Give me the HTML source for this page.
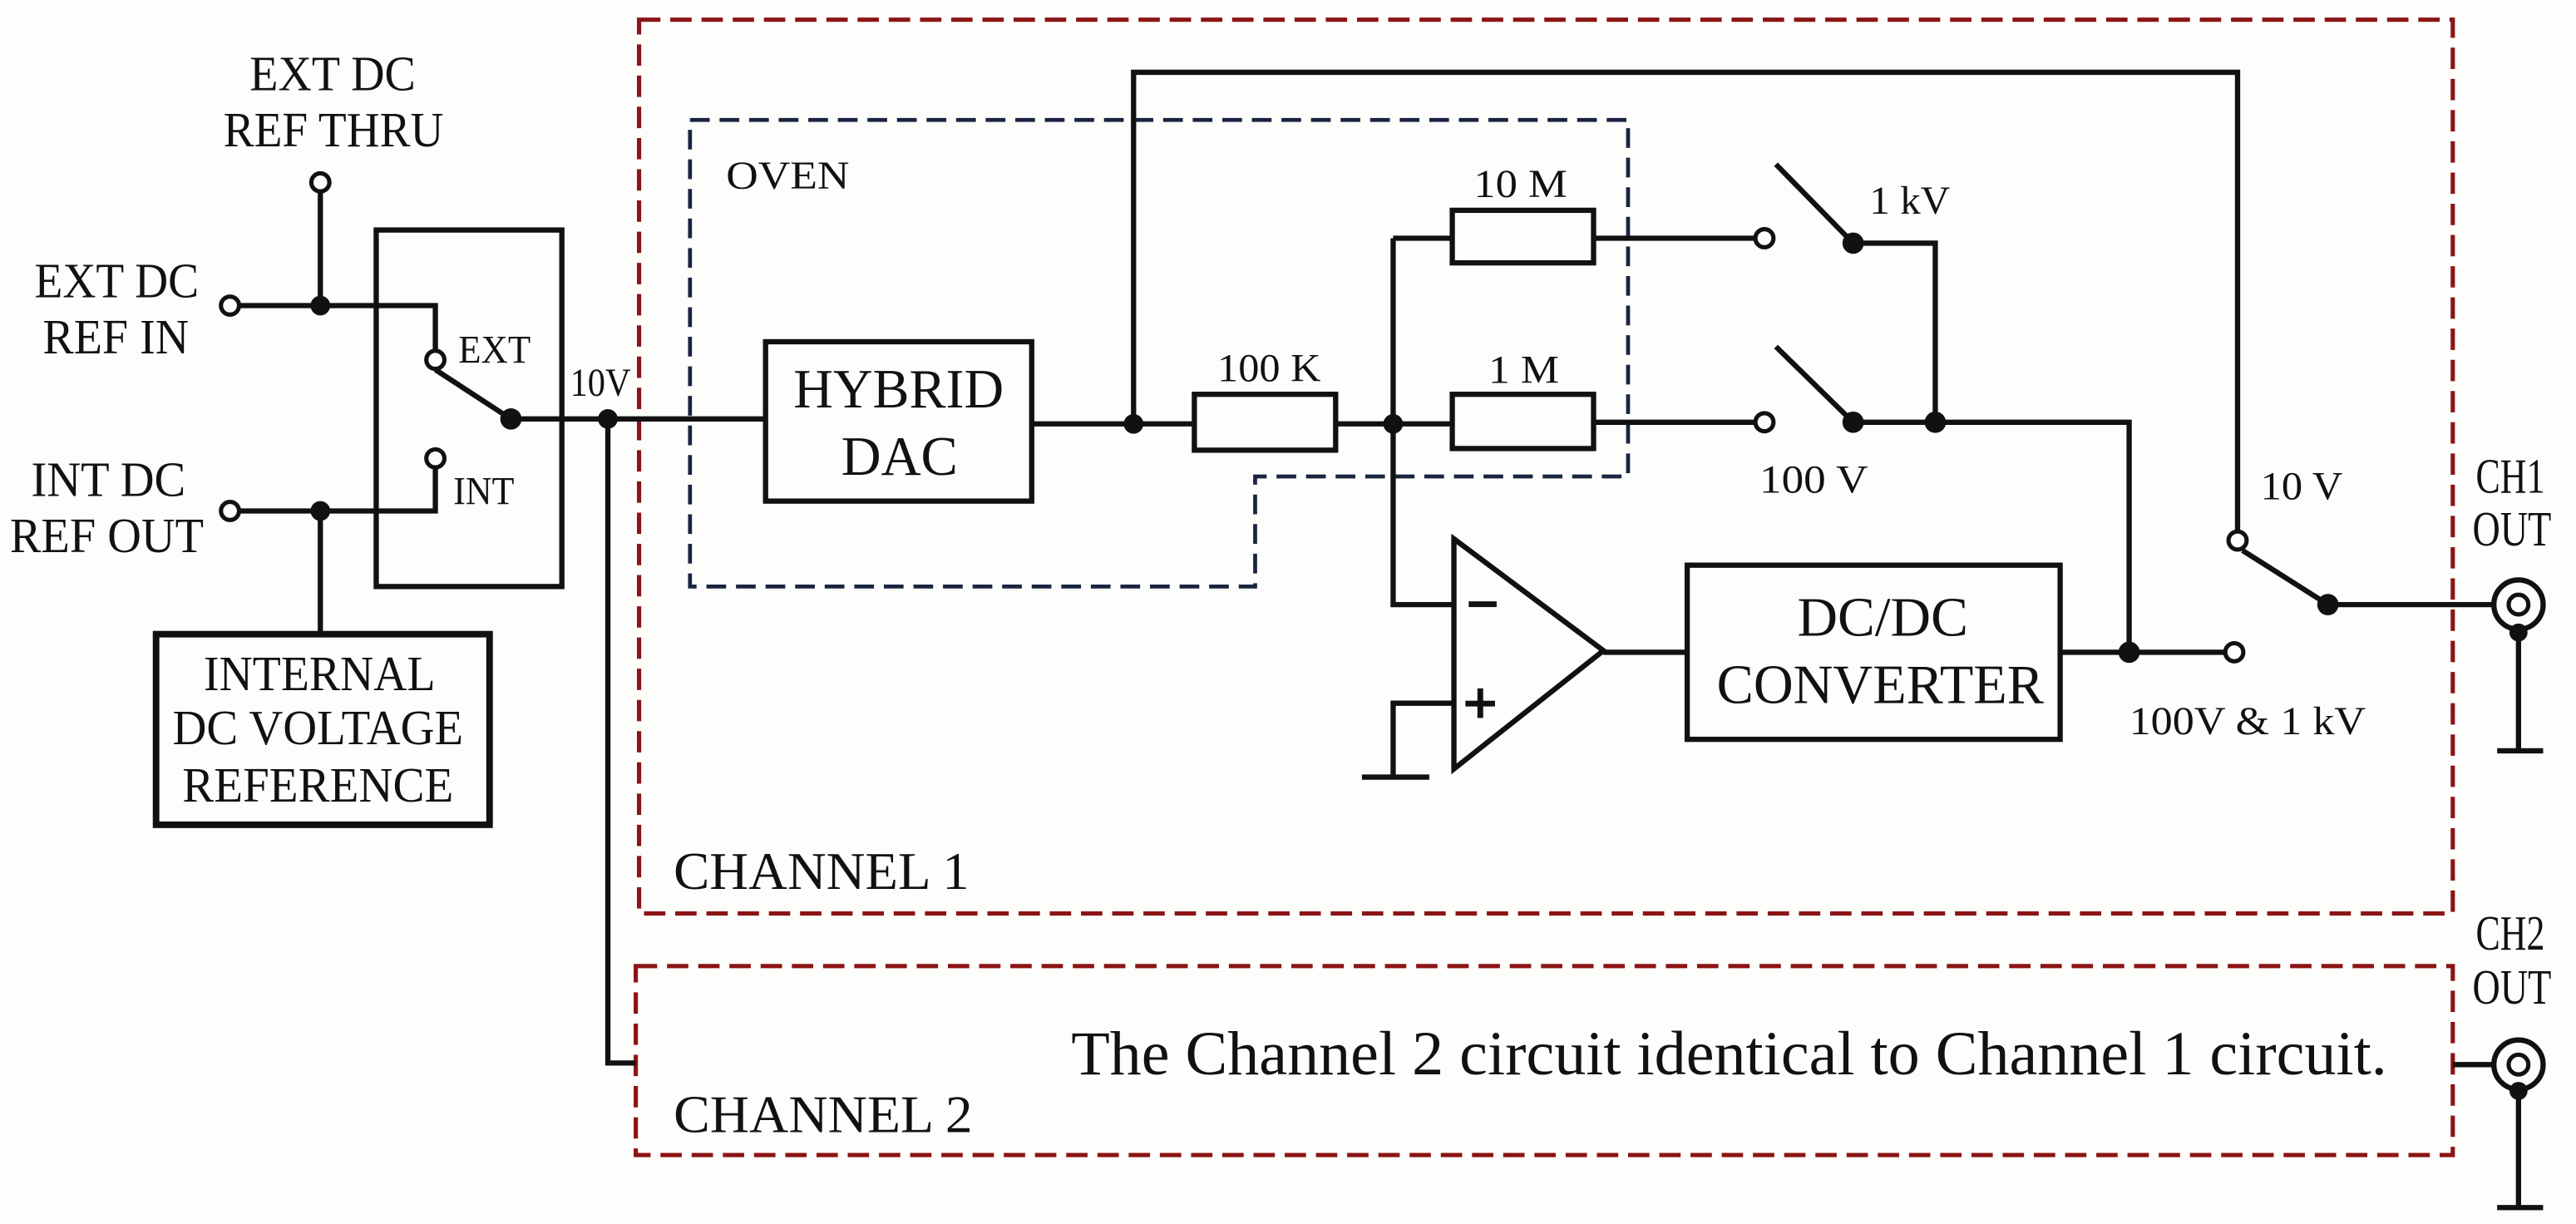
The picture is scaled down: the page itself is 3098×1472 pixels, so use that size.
<!DOCTYPE html>
<html><head><meta charset="utf-8"><style>html,body{margin:0;padding:0;background:#fdfdfb;overflow:hidden}svg{display:block}</style></head><body>
<svg width="3098" height="1472" viewBox="0 0 1568 745" preserveAspectRatio="none" xmlns="http://www.w3.org/2000/svg" font-family="Liberation Serif, serif" fill="#111">
<rect width="1568" height="745" fill="#fdfdfb"/>
<g fill="none" stroke="#8b1414" stroke-width="2.6" stroke-dasharray="13 6">
<rect x="389" y="12" width="1104" height="544"/>
<rect x="387" y="588" width="1106" height="115"/>
</g>
<path d="M420 73 H991 V290 H764 V357 H420 Z" fill="none" stroke="#1a2440" stroke-width="2.4" stroke-dasharray="12 6"/>
<g stroke="#111" stroke-width="3.2" fill="none">
<rect x="229" y="140" width="113" height="217"/>
<rect x="95" y="386" width="203" height="116" stroke-width="4"/>
<rect x="466" y="208" width="162" height="97"/>
<rect x="727" y="240" width="86" height="34"/>
<rect x="884" y="128" width="86" height="32"/>
<rect x="884" y="240" width="86" height="33"/>
<rect x="1027" y="344" width="227" height="106"/>
<path d="M195 117 V186 M146 186 H265 V213 M146 311 H265 V285 M195 311 V386 M265 225 L311 255 H466 M370 255 V647 H387 M628 258 H727 M813 258 H884 M848 145 V368 H885 M848 145 H884 M970 145 H1068 M970 257 H1068 M1081 100 L1128 148 M1081 211 L1128 257 M1128 148 H1178 V257 M1128 257 H1296 V397 M1254 397 H1354 M976 397 H1027 M885 428 H848 V473 M829 473 H870 M690 258 V44 H1362 V323 M1365 335 L1417 368 H1533 M1533 385 V457 M1520 457 H1548 M1533 664 V735 M1520 735 H1548 M1493 648 H1518"/>
<path d="M885 328 L976 396 L885 468 Z"/>
</g>
<g fill="#fdfdfb" stroke="#111" stroke-width="2.6">
<circle cx="195" cy="111" r="5.5"/><circle cx="140" cy="186" r="5.5"/><circle cx="140" cy="311" r="5.5"/>
<circle cx="265" cy="219" r="5.5"/><circle cx="265" cy="279" r="5.5"/>
<circle cx="1074" cy="145" r="5.5"/><circle cx="1074" cy="257" r="5.5"/><circle cx="1360" cy="397" r="5.5"/><circle cx="1362" cy="329" r="5.5"/>
<circle cx="1533" cy="368" r="15" stroke-width="3.2"/><circle cx="1533" cy="368" r="6"/>
<circle cx="1533" cy="648" r="15" stroke-width="3.2"/><circle cx="1533" cy="648" r="6"/>
</g>
<g fill="#111">
<circle cx="195" cy="186" r="6"/><circle cx="195" cy="311" r="6"/><circle cx="311" cy="255" r="6.5"/><circle cx="370" cy="255" r="6"/>
<circle cx="690" cy="258" r="6"/><circle cx="848" cy="258" r="6"/><circle cx="1128" cy="148" r="6.5"/><circle cx="1128" cy="257" r="6.5"/><circle cx="1178" cy="257" r="6.5"/><circle cx="1296" cy="397" r="6.5"/><circle cx="1417" cy="368" r="6.5"/>
<circle cx="1533" cy="385" r="5.5"/><circle cx="1533" cy="664" r="5.5"/>
</g>
<g font-size="30" lengthAdjust="spacingAndGlyphs">
<text x="152" y="55" textLength="101" lengthAdjust="spacingAndGlyphs">EXT DC</text>
<text x="136" y="89" textLength="134" lengthAdjust="spacingAndGlyphs">REF THRU</text>
<text x="21" y="181" textLength="100" lengthAdjust="spacingAndGlyphs">EXT DC</text>
<text x="26" y="215" textLength="89" lengthAdjust="spacingAndGlyphs">REF IN</text>
<text x="19" y="302" textLength="94" lengthAdjust="spacingAndGlyphs">INT DC</text>
<text x="6" y="336" textLength="118" lengthAdjust="spacingAndGlyphs">REF OUT</text>
<text x="124" y="420" textLength="141" lengthAdjust="spacingAndGlyphs">INTERNAL</text>
<text x="105" y="453" textLength="177" lengthAdjust="spacingAndGlyphs">DC VOLTAGE</text>
<text x="111" y="488" textLength="165" lengthAdjust="spacingAndGlyphs">REFERENCE</text>
<text x="1507" y="300" textLength="42" lengthAdjust="spacingAndGlyphs">CH1</text>
<text x="1505" y="332" textLength="48" lengthAdjust="spacingAndGlyphs">OUT</text>
<text x="1507" y="578" textLength="42" lengthAdjust="spacingAndGlyphs">CH2</text>
<text x="1505" y="611" textLength="48" lengthAdjust="spacingAndGlyphs">OUT</text>
</g>
<g font-size="24">
<text x="279" y="221" textLength="44" lengthAdjust="spacingAndGlyphs">EXT</text>
<text x="276" y="307" textLength="37" lengthAdjust="spacingAndGlyphs">INT</text>
<text x="347" y="241" textLength="37" lengthAdjust="spacingAndGlyphs">10V</text>
<text x="442" y="115" textLength="75" lengthAdjust="spacingAndGlyphs">OVEN</text>
<text x="741" y="232" textLength="63" lengthAdjust="spacingAndGlyphs">100 K</text>
<text x="897" y="120" textLength="57" lengthAdjust="spacingAndGlyphs">10 M</text>
<text x="906" y="233" textLength="43" lengthAdjust="spacingAndGlyphs">1 M</text>
<text x="1138" y="130" textLength="49" lengthAdjust="spacingAndGlyphs">1 kV</text>
<text x="1071" y="300" textLength="66" lengthAdjust="spacingAndGlyphs">100 V</text>
<text x="1376" y="304" textLength="50" lengthAdjust="spacingAndGlyphs">10 V</text>
<text x="1296" y="447" textLength="144" lengthAdjust="spacingAndGlyphs">100V &amp; 1 kV</text>
</g>
<g font-size="34">
<text x="483" y="248" textLength="128" lengthAdjust="spacingAndGlyphs">HYBRID</text>
<text x="512" y="289" textLength="71" lengthAdjust="spacingAndGlyphs">DAC</text>
<text x="1094" y="387" textLength="104" lengthAdjust="spacingAndGlyphs">DC/DC</text>
<text x="1045" y="428" textLength="199" lengthAdjust="spacingAndGlyphs">CONVERTER</text>
</g>
<rect x="894" y="366" width="17" height="3.5" fill="#111"/>
<rect x="892" y="426.5" width="18" height="3.5" fill="#111"/><rect x="899.3" y="419" width="3.5" height="18" fill="#111"/>
<g font-size="32">
<text x="410" y="541" textLength="180" lengthAdjust="spacingAndGlyphs">CHANNEL 1</text>
<text x="410" y="689" textLength="182" lengthAdjust="spacingAndGlyphs">CHANNEL 2</text>
</g>
<text x="652" y="654" font-size="38" textLength="801" lengthAdjust="spacingAndGlyphs">The Channel 2 circuit identical to Channel 1 circuit.</text>
</svg>
</body></html>
